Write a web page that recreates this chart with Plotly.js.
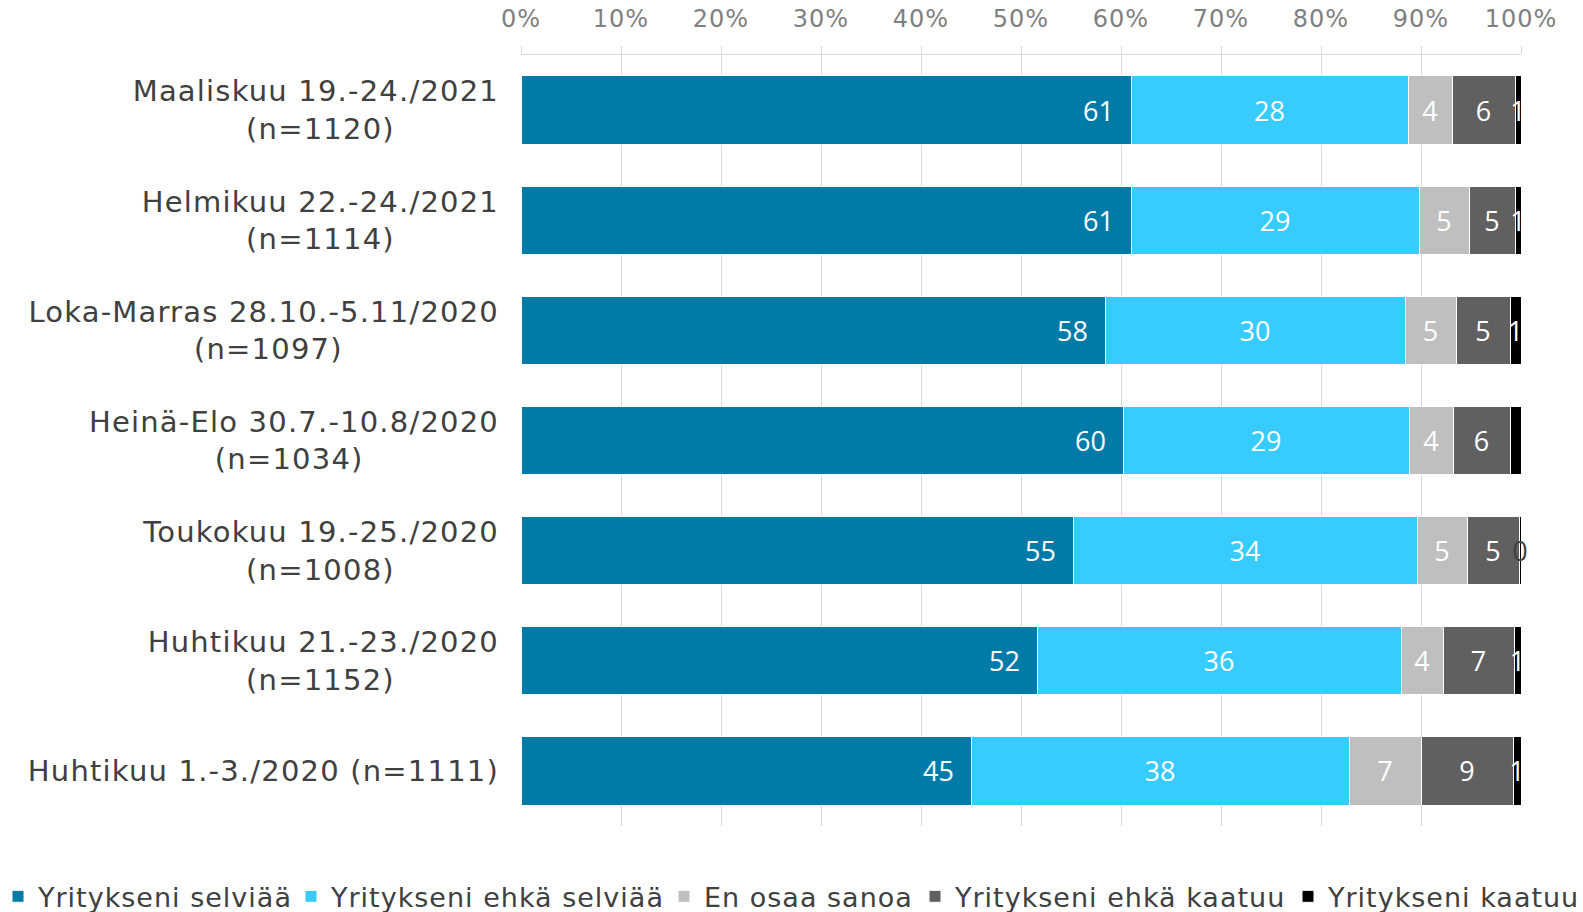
<!DOCTYPE html>
<html>
<head>
<meta charset="utf-8">
<script src="https://cdn.plot.ly/plotly-3.0.1.min.js"></script>
<style>
html,body{margin:0;padding:0;background:#fff;}
#chart{width:1583px;height:912px;}
#chart .ytick text{letter-spacing:1.2px;}
#chart .xtick text{letter-spacing:1px;}
#chart .legendtext{letter-spacing:1px;}
#chart .legend .scrollbox{clip-path:none !important;}
</style>
</head>
<body>
<div id="chart"></div>
<script>
// Categories, top to bottom (first line / second line of each label)
const categoryLine1 = [
  "Maaliskuu 19.-24./2021",
  "Helmikuu 22.-24./2021",
  "Loka-Marras 28.10.-5.11/2020",
  "Heinä-Elo 30.7.-10.8/2020",
  "Toukokuu 19.-25./2020",
  "Huhtikuu 21.-23./2020",
  "Huhtikuu 1.-3./2020 (n=1111)"
];
const categoryLine2 = ["(n=1120)", "(n=1114)", "(n=1097)", "(n=1034)", "(n=1008)", "(n=1152)", ""];
const seriesNames = ["Yritykseni selviää", "Yritykseni ehkä selviää", "En osaa sanoa", "Yritykseni ehkä kaatuu", "Yritykseni kaatuu"];
const selviaa      = [61.0, 61.0, 58.4, 60.2, 55.2, 51.6, 45.0];
const ehkaSelviaa  = [27.7, 28.8, 30.0, 28.6, 34.4, 36.4, 37.8];
const enOsaaSanoa  = [4.4, 5.0, 5.1, 4.4, 5.0, 4.2, 7.2];
const ehkaKaatuu   = [6.3, 4.6, 5.4, 5.7, 5.2, 7.1, 9.2];
const kaatuu       = [0.6, 0.6, 1.1, 1.1, 0.2, 0.7, 0.8];
const tickVals = [0, 10, 20, 30, 40, 50, 60, 70, 80, 90, 100];
const tickLabels = ["0%", "10%", "20%", "30%", "40%", "50%", "60%", "70%", "80%", "90%", "100%"];

const colors = ["#007BA7", "#38CBFF", "#BFBFBF", "#606060", "#000000"];
const legendWidths = [248, 328, 206, 328, 100];
const values = [selviaa, ehkaSelviaa, enOsaaSanoa, ehkaKaatuu, kaatuu];
const FONT = "DejaVu Sans, Verdana, sans-serif";
const LABELFONT = "Open Sans, Noto Sans, sans-serif";
const YSIZE = 29, YSPACING = 1.2;

const categories = categoryLine1.map((l1, i) => categoryLine2[i] ? l1 + " " + categoryLine2[i] : l1);

// centre the second line under the first (tick labels are right-aligned)
const ctx = document.createElement("canvas").getContext("2d");
ctx.font = YSIZE + "px 'DejaVu Sans'";
const measure = s => ctx.measureText(s).width + YSPACING * s.length;
const nbspW = measure("\u00a0");
const yTickText = categoryLine1.map((l1, i) => {
  const l2 = categoryLine2[i];
  if (!l2) return l1;
  const n = Math.max(0, Math.round((measure(l1) - measure(l2)) / 2 / nbspW));
  return l1 + "<br>" + l2 + "\u00a0".repeat(n);
});

const traces = values.map((v, i) => {
  const isLast = i === 4;
  return {
    type: "bar",
    orientation: "h",
    name: seriesNames[i],
    legendwidth: legendWidths[i],
    y: categories,
    x: v,
    text: v.map(d => String(Math.round(d)) + (i === 0 ? "\u00a0\u00a0" : "")),
    texttemplate: "%{text}",
    textposition: "inside",
    insidetextanchor: i === 0 ? "end" : "middle",
    constraintext: "none",
    textangle: 0,
    cliponaxis: false,
    textfont: {
      family: LABELFONT, size: 27,
      color: isLast ? v.map(d => d < 0.5 ? "#404040" : "#ffffff") : "#ffffff"
    },
    marker: { color: colors[i], line: { color: "#ffffff", width: 1 } },
    hoverinfo: "x+y+name"
  };
});

const layout = {
  width: 1583, height: 912,
  barmode: "stack",
  bargap: 0.38,
  margin: { l: 521, r: 62, t: 55, b: 86, autoexpand: false },
  paper_bgcolor: "#ffffff",
  plot_bgcolor: "#ffffff",
  font: { family: FONT, size: 24, color: "#404040" },
  showlegend: true,
  legend: {
    orientation: "h",
    x: -0.523, xanchor: "left",
    y: -0.06, yanchor: "top",
    font: { family: FONT, size: 27, color: "#404040" },
    itemwidth: 30,
    traceorder: "normal",
    tracegroupgap: 0,
    bgcolor: "rgba(0,0,0,0)"
  },
  xaxis: {
    side: "top",
    range: [0, 100],
    tickvals: tickVals,
    ticktext: tickLabels,
    tickfont: { family: FONT, size: 24, color: "#808080" },
    ticklabelstandoff: 9,
    showgrid: true,
    gridcolor: "#d9d9d9",
    gridwidth: 1,
    showline: true,
    linecolor: "#d9d9d9",
    linewidth: 1,
    ticks: "outside",
    ticklen: 8,
    tickcolor: "#d9d9d9",
    zeroline: false,
    fixedrange: true
  },
  yaxis: {
    autorange: "reversed",
    type: "category",
    categoryorder: "array",
    categoryarray: categories,
    tickvals: categories,
    ticktext: yTickText,
    tickfont: { family: FONT, size: YSIZE, color: "#404040" },
    ticks: "",
    ticklabelstandoff: 21,
    showline: false,
    showgrid: false,
    fixedrange: true
  }
};

Plotly.newPlot("chart", traces, layout, { displayModeBar: false, staticPlot: true });
</script>
</body>
</html>
